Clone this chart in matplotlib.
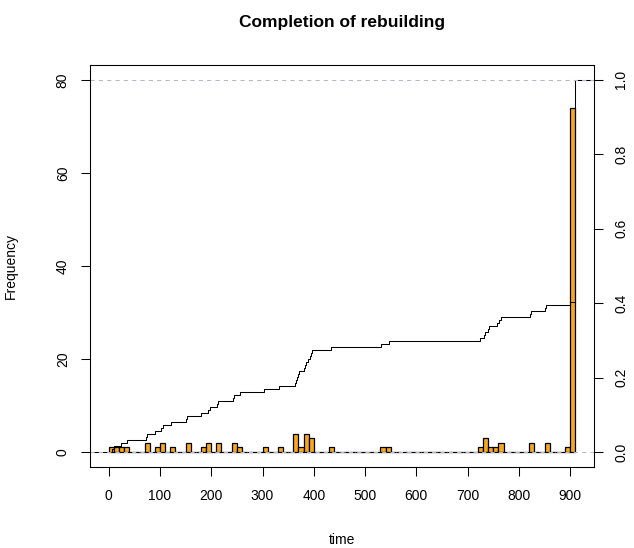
import numpy as np
import matplotlib
matplotlib.use("Agg")
import matplotlib.pyplot as plt

plt.rcParams['font.family'] = ['Liberation Sans', 'DejaVu Sans']

# event times and how many events share each time
event_times = [6.6, 10.5, 23.4, 35.8, 73.4, 75.4, 91, 103, 106, 120.8,
               151.4, 153, 180.6, 194, 197, 211, 213, 241.6, 244, 256,
               302, 332, 363, 365, 367, 369, 372, 381, 383, 385,
               388, 392, 394, 397, 434, 532, 547, 724, 731, 734,
               739, 742, 758, 762, 766, 821, 823, 851, 853, 899, 909]
event_counts = [1] * 50 + [74]

bin_edges = np.arange(0, 920, 10)
x_ticks = list(range(0, 1000, 100))
freq_ticks = [0, 20, 40, 60, 80]
prop_ticks = [0.0, 0.2, 0.4, 0.6, 0.8, 1.0]

data = np.repeat(event_times, event_counts)
xmin, xmax = -36.4, 946.4
fs = 10

fig = plt.figure(figsize=(6.34, 5.48), dpi=100)
ax = fig.add_axes([90 / 634, 81 / 548, 504 / 634, 402 / 548])

ax.hist(data, bins=bin_edges, color='#f7a823', edgecolor='black', linewidth=0.9)
ax.set_xlim(xmin, xmax)
ax.set_ylim(-3.2, 83.2)
ax.set_xticks(x_ticks)
ax.set_yticks(freq_ticks)
ax.tick_params(axis='both', direction='out', length=6.5, width=0.75, labelsize=fs)
ax.tick_params(axis='x', pad=9)
ax.tick_params(axis='y', pad=8, labelrotation=90)
for lab in ax.get_yticklabels():
    lab.set_va('center')
ax.set_xlabel('time', fontsize=fs)
ax.xaxis.set_label_coords(0.5, -(533 - 467) / 402)
ax.set_ylabel('Frequency', fontsize=fs)
ax.yaxis.set_label_coords(-(90 - 18) / 504, 0.5)
ax.set_title('Completion of rebuilding', fontsize=12.5, fontweight='bold', pad=27)

# empirical CDF on the right-hand axis
ax2 = ax.twinx()
ax2.set_ylim(-0.04, 1.04)
counts = np.array(event_counts)
cdf = np.cumsum(counts) / counts.sum()
xs = np.concatenate([[xmin], event_times, [xmax]])
ys = np.concatenate([[0.0], cdf, [1.0]])
ax2.step(xs, ys, where='post', color='black', linewidth=0.75)
ax2.axhline(0, color='#b3b8c2', linestyle=(0, (4, 4)), linewidth=0.75)
ax2.axhline(1, color='#b3b8c2', linestyle=(0, (4, 4)), linewidth=0.75)
ax2.set_yticks(prop_ticks)
ax2.set_yticklabels(['%.1f' % v for v in prop_ticks])
ax2.tick_params(axis='y', direction='out', length=6.5, width=0.75, labelsize=fs,
                pad=8, labelrotation=90)
for lab in ax2.get_yticklabels():
    lab.set_va('center')

for a in (ax, ax2):
    for s in a.spines.values():
        s.set_linewidth(0.75)

fig.savefig('out.png', dpi=100)
